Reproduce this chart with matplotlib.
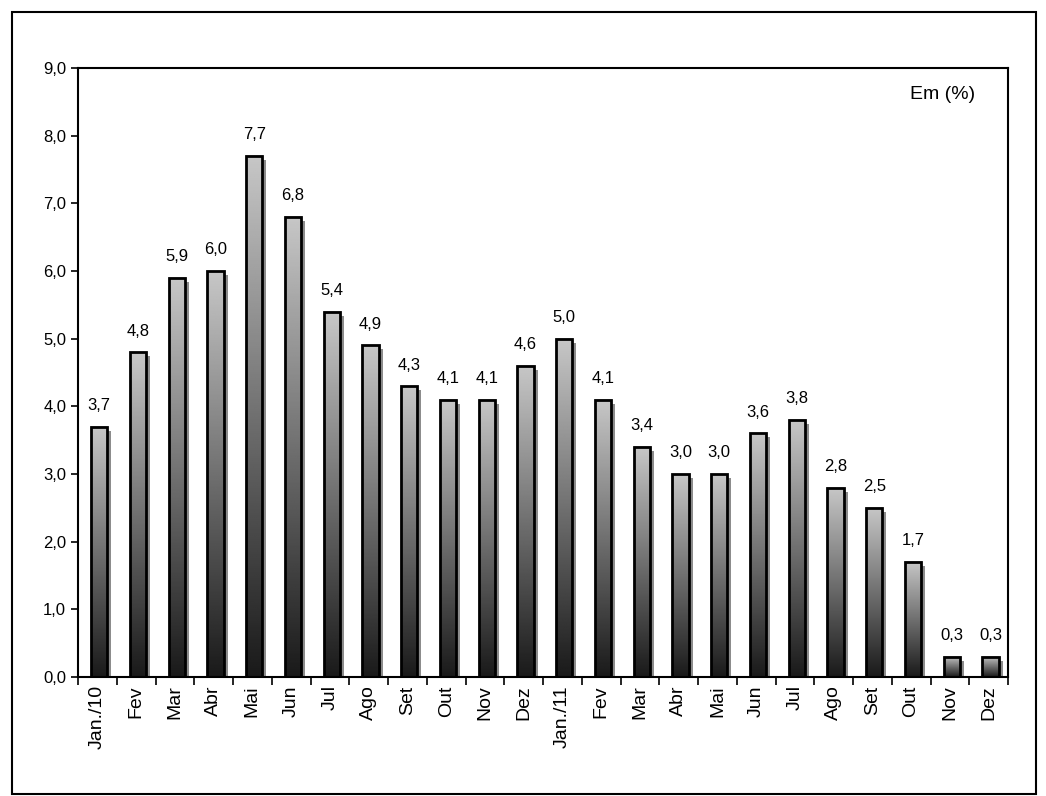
import numpy as np
import matplotlib.pyplot as plt
from matplotlib.patches import Rectangle

plt.rcParams['font.family'] = ['Liberation Sans', 'DejaVu Sans']

# dados
meses = ['Jan./10', 'Fev', 'Mar', 'Abr', 'Mai', 'Jun', 'Jul', 'Ago', 'Set', 'Out', 'Nov', 'Dez',
         'Jan./11', 'Fev', 'Mar', 'Abr', 'Mai', 'Jun', 'Jul', 'Ago', 'Set', 'Out', 'Nov', 'Dez']
valores = [3.7, 4.8, 5.9, 6.0, 7.7, 6.8, 5.4, 4.9, 4.3, 4.1, 4.1, 4.6,
           5.0, 4.1, 3.4, 3.0, 3.0, 3.6, 3.8, 2.8, 2.5, 1.7, 0.3, 0.3]

W, H = 1046, 796
fig = plt.figure(figsize=(W / 100, H / 100), dpi=100)
ax = fig.add_axes([78 / W, 1 - 677 / H, (1008 - 78) / W, (677 - 68) / H])

# moldura externa
fig.patches.append(Rectangle((12 / W, 0.002), (1036 - 12) / W, (786 - 12) / H + 0.01,
                             transform=fig.transFigure, fill=False, lw=1.5, ec='black'))

grad = np.linspace(0.1, 0.78, 256).reshape(-1, 1)
bw = 0.42
for i, v in enumerate(valores):
    x0 = i - bw / 2 + 0.05
    # sombra
    ax.add_patch(Rectangle((x0 + 0.1, 0), bw, v - 0.06, fc='#8c8c8c', ec='none', zorder=1))
    ax.imshow(grad, cmap='gray', vmin=0, vmax=1, aspect='auto', origin='lower',
              extent=(x0, x0 + bw, 0, v), zorder=2, interpolation='bilinear')
    ax.add_patch(Rectangle((x0, 0), bw, v, fill=False, ec='black', lw=2, zorder=3))
    ax.text(i + 0.05, v + 0.2, f'{v:.1f}'.replace('.', ','), ha='center', va='bottom', fontsize=12)

ax.set_xlim(-0.5, len(valores) - 0.5)
ax.set_ylim(0, 9)
ax.set_yticks(np.arange(0, 10, 1))
ax.set_yticklabels([f'{t:.1f}'.replace('.', ',') for t in range(10)], fontsize=12)
ax.set_xticks(np.arange(len(valores)))
ax.set_xticklabels(meses, rotation=90, fontsize=14)
ax.set_xticks(np.arange(-0.5, len(valores)), minor=True)
ax.tick_params(axis='x', which='major', length=0, pad=6)
ax.tick_params(axis='x', which='minor', length=6, width=1.2, direction='out')
ax.tick_params(axis='y', length=5, width=1.2, direction='out')
for s in ax.spines.values():
    s.set_linewidth(1.5)
ax.text(0.93, 0.97, 'Em (%)', transform=ax.transAxes, ha='center', va='top', fontsize=14)

fig.savefig('out.png', dpi=100)
